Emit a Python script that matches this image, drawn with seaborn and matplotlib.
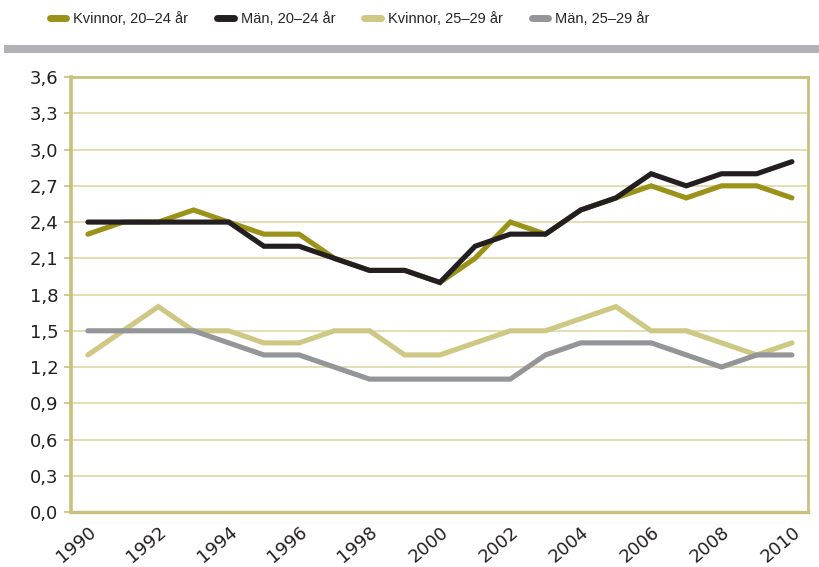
import matplotlib
matplotlib.use('Agg')
import matplotlib.pyplot as plt
import matplotlib.patches as mpatches
from matplotlib.lines import Line2D
import pandas as pd
import seaborn as sns

# data
years = list(range(1990, 2011))
kvinnor_20_24 = [2.3, 2.4, 2.4, 2.5, 2.4, 2.3, 2.3, 2.1, 2.0, 2.0, 1.9,
                 2.1, 2.4, 2.3, 2.5, 2.6, 2.7, 2.6, 2.7, 2.7, 2.6]
man_20_24 = [2.4, 2.4, 2.4, 2.4, 2.4, 2.2, 2.2, 2.1, 2.0, 2.0, 1.9,
             2.2, 2.3, 2.3, 2.5, 2.6, 2.8, 2.7, 2.8, 2.8, 2.9]
kvinnor_25_29 = [1.3, 1.5, 1.7, 1.5, 1.5, 1.4, 1.4, 1.5, 1.5, 1.3, 1.3,
                 1.4, 1.5, 1.5, 1.6, 1.7, 1.5, 1.5, 1.4, 1.3, 1.4]
man_25_29 = [1.5, 1.5, 1.5, 1.5, 1.4, 1.3, 1.3, 1.2, 1.1, 1.1, 1.1,
             1.1, 1.1, 1.3, 1.4, 1.4, 1.4, 1.3, 1.2, 1.3, 1.3]

series_names = ['Kvinnor, 20–24 år', 'Män, 20–24 år',
                'Kvinnor, 25–29 år', 'Män, 25–29 år']
series_colors = ['#9b9219', '#231f20', '#cfc784', '#939598']
y_ticks = [0.0, 0.3, 0.6, 0.9, 1.2, 1.5, 1.8, 2.1, 2.4, 2.7, 3.0, 3.3, 3.6]
y_labels = ['0,0', '0,3', '0,6', '0,9', '1,2', '1,5', '1,8', '2,1',
            '2,4', '2,7', '3,0', '3,3', '3,6']
x_ticks = list(range(1990, 2011, 2))

frames = []
for name, vals in zip(series_names, [kvinnor_20_24, man_20_24, kvinnor_25_29, man_25_29]):
    frames.append(pd.DataFrame({'year': years, 'value': vals, 'serie': name}))
df = pd.concat(frames, ignore_index=True)

sns.set_style('white')
plt.rcParams['font.family'] = ['DejaVu Sans']

frame_col = '#c9c07c'
grid_col = '#ddd8a8'

fig = plt.figure(figsize=(8.19, 5.67), dpi=100)
ax = fig.add_axes([0.0867, 0.097, 0.9, 0.767])

sns.lineplot(data=df, x='year', y='value', hue='serie', hue_order=series_names,
             palette=dict(zip(series_names, series_colors)), linewidth=3.7,
             legend=False, ax=ax, zorder=3)
for line in ax.lines:
    line.set_solid_capstyle('round')
    line.set_solid_joinstyle('miter')

ax.set_xlim(1989.52, 2010.46)
ax.set_ylim(0, 3.6)
ax.set_yticks(y_ticks)
ax.set_yticklabels(y_labels, fontsize=13, color='#231f20')
ax.set_xticks(x_ticks)
ax.set_xticklabels([str(y) for y in x_ticks], fontsize=13, color='#231f20',
                   rotation=40, ha='right', rotation_mode='anchor')
ax.set_xlabel('')
ax.set_ylabel('')
ax.tick_params(axis='y', length=5, width=1.2, color=frame_col, pad=4, left=True)
ax.tick_params(axis='x', length=0, pad=8)

ax.grid(axis='y', color=grid_col, linewidth=1.2, zorder=0)
ax.grid(axis='x', visible=False)
for side, lw in [('left', 2.6), ('top', 2.0), ('right', 2.0), ('bottom', 2.4)]:
    ax.spines[side].set_color(frame_col)
    ax.spines[side].set_linewidth(lw)
    ax.spines[side].set_visible(True)

# legend above the plot
handles = [Line2D([0], [0], color=c, linewidth=5, solid_capstyle='round')
           for c in series_colors]
fig.legend(handles, series_names, loc='center left', bbox_to_anchor=(0.045, 0.967),
           ncol=4, frameon=False, handlelength=1.1, handletextpad=0.5,
           columnspacing=2.0, prop={'family': ['Liberation Sans', 'DejaVu Sans'],
                                    'size': 10.5})

# gray separator bar
fig.patches.append(mpatches.Rectangle((0.005, 1 - 53 / 567), 0.995, 8 / 567,
                                      transform=fig.transFigure, color='#b1b2b5',
                                      linewidth=0))

fig.savefig('out.png', dpi=100)
